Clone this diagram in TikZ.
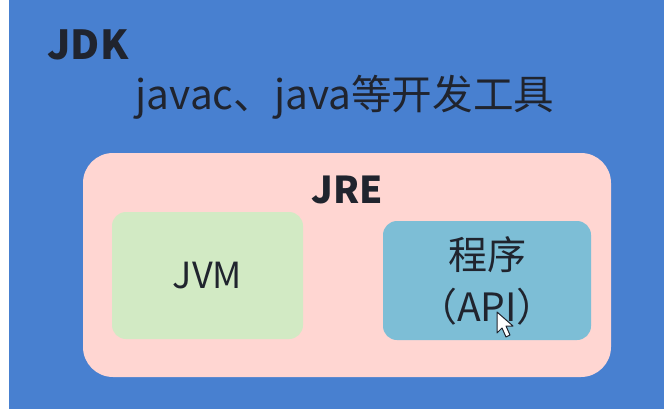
\documentclass[tikz,border=0pt]{standalone}
\usepackage{fontspec}
\setmainfont{Noto Sans CJK SC}

\definecolor{jdkblue}{RGB}{72,128,208}
\definecolor{jrepink}{RGB}{255,214,210}
\definecolor{jvmgreen}{RGB}{210,234,196}
\definecolor{apiblue}{RGB}{125,190,214}
\definecolor{inkdark}{RGB}{32,36,46}

\tikzset{
  box/.style={rounded corners=14pt, inner sep=0pt, text=inkdark},
  title/.style={text=inkdark, font=\bfseries\fontsize{40}{48}\selectfont}
}

\begin{document}
\begin{tikzpicture}[x=1pt,y=-1pt]
\useasboundingbox (0,0) rectangle (664,418);
\fill[white] (0,0) rectangle (664,418);
\fill[jdkblue] (9,0) rectangle (664,409);
\node[title] (jdk) at (88,45) {JDK};
\node[text=inkdark, font=\fontsize{40.6}{48}\selectfont] (tools) at (345,97) {javac、java等开发工具};
\node[box, fill=jrepink, rounded corners=30pt, minimum width=528pt, minimum height=224pt] (jre) at (347,265) {};
\node[title, font=\bfseries\fontsize{37}{44}\selectfont] (jretitle) at (347,190) {JRE};
\node[box, fill=jvmgreen, minimum width=191pt, minimum height=127pt, font=\fontsize{36}{44}\selectfont] (jvm) at (207.5,275.5) {JVM};
\node[box, fill=apiblue, minimum width=208pt, minimum height=119pt, align=center, font=\fontsize{39}{52}\selectfont] (api) at (487,280.5) {程序\\（API）};
% mouse pointer
\filldraw[fill=white, draw=inkdark, line width=1pt, line join=round] (497,312) -- ++(0,21) -- ++(5,-5) -- ++(4,9) -- ++(4,-2) -- ++(-4,-9) -- ++(7,0) -- cycle;
\end{tikzpicture}
\end{document}
